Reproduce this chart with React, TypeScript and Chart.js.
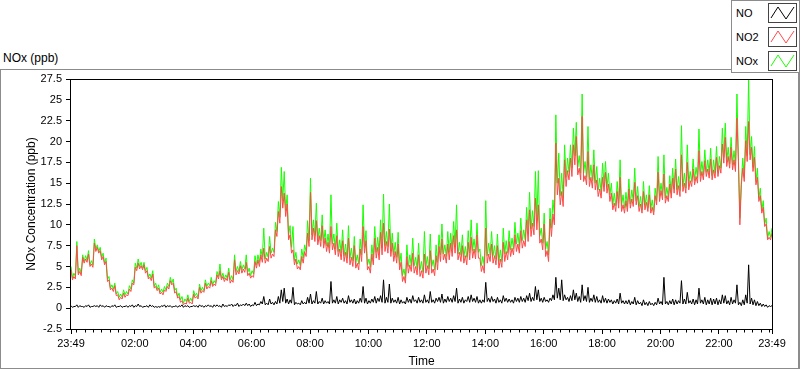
import React, { useEffect, useRef } from 'react';
import { Chart, registerables } from 'chart.js';

Chart.register(...registerables);

// ---- data -------------------------------------------------------------
// Samples every 6 minutes from 23:49 (minute 0) to 23:49 next day (minute 1440).
// *_PPB hold the reading at each sample, *_LOW hold the lowest reading seen
// inside the interval that follows it (read from the trace's lower edge).
const SAMPLE_STEP_MIN = 6;

const X_TICK_MINUTES = [0, 131, 251, 371, 491, 611, 731, 851, 971, 1091, 1211, 1331, 1440];
const X_TICK_LABELS = ['23:49', '02:00', '04:00', '06:00', '08:00', '10:00', '12:00', '14:00', '16:00', '18:00', '20:00', '22:00', '23:49'];
const X_MINOR_FIRST_MIN = 11;
const X_MINOR_STEP_MIN = 120 / 7;

const Y_MIN = -2.5;
const Y_MAX = 27.5;
const Y_STEP = 2.5;

const SERIES_NAMES = ['NO', 'NO2', 'NOx'];

const NO_PPB = [
  0.3, 0.2, 0.4, 0.3, 0.2, 0.3, 0.4, 0.2, 0.3, 0.3,
  0.4, 0.3, 0.3, 0.2, 0.3, 0.4, 0.2, 0.3, 0.2, 0.3,
  0.3, 0.4, 0.3, 0.5, 0.3, 0.2, 0.3, 0.4, 0.3, 0.2,
  0.2, 0.3, 0.4, 0.3, 0.3, 0.2, 0.3, 0.3, 0.4, 0.3,
  0.3, 0.2, 0.3, 0.3, 0.4, 0.3, 0.3, 0.4, 0.3, 0.4,
  0.4, 0.3, 0.5, 0.3, 0.4, 0.5, 0.4, 0.6, 0.4, 0.5,
  0.6, 0.5, 0.4, 0.7, 0.5, 0.8, 1.4, 0.6, 1.1, 0.7,
  0.8, 1.4, 2.2, 2.4, 1.1, 1.0, 2.5, 0.7, 0.6, 0.9,
  0.7, 1.3, 1.7, 0.9, 2.0, 0.8, 1.2, 0.9, 0.8, 3.2,
  1.0, 1.4, 1.0, 1.2, 0.9, 1.5, 1.0, 1.1, 0.9, 1.2,
  2.6, 1.2, 0.9, 1.1, 1.4, 1.2, 1.5, 3.4, 1.3, 2.9,
  1.2, 1.0, 1.3, 1.0, 0.8, 1.3, 1.1, 1.5, 1.0, 1.3,
  1.0, 1.6, 1.0, 2.0, 1.0, 1.2, 1.3, 1.7, 1.1, 1.4,
  1.2, 1.5, 2.4, 1.1, 1.3, 1.0, 1.4, 1.6, 1.2, 1.4,
  1.0, 1.0, 3.1, 1.2, 1.4, 1.1, 1.3, 1.0, 1.5, 1.2,
  1.1, 1.0, 1.3, 1.2, 1.4, 1.2, 1.5, 1.8, 1.3, 2.6,
  2.2, 1.2, 1.3, 1.0, 1.2, 1.6, 3.7, 2.4, 3.4, 1.6,
  1.3, 1.5, 2.2, 1.8, 1.4, 2.8, 1.5, 2.5, 1.2, 1.6,
  1.4, 1.0, 1.5, 1.2, 1.1, 1.0, 0.9, 1.1, 1.8, 0.9,
  0.9, 1.0, 0.8, 1.3, 0.9, 0.7, 1.0, 0.7, 0.8, 0.6,
  0.7, 1.2, 0.8, 3.7, 0.8, 0.9, 1.1, 1.0, 0.9, 3.3,
  1.1, 1.9, 0.9, 1.1, 1.0, 2.4, 1.0, 1.3, 1.0, 1.2,
  1.1, 1.2, 1.0, 1.6, 1.5, 0.9, 1.3, 1.0, 2.8, 0.7,
  1.0, 1.6, 5.2, 1.2, 1.0, 0.8, 0.6, 0.5, 0.4, 0.3, 0.3,
];

const NO_LOW = [
  0.1, 0.2, 0.1, 0.2, 0.1, 0.2, 0.1, 0.2, 0.2, 0.1,
  0.2, 0.1, 0.2, 0.1, 0.2, 0.1, 0.2, 0.1, 0.2, 0.1,
  0.2, 0.1, 0.2, 0.2, 0.1, 0.2, 0.1, 0.2, 0.1, 0.1,
  0.1, 0.2, 0.1, 0.2, 0.1, 0.2, 0.1, 0.2, 0.1, 0.2,
  0.1, 0.2, 0.2, 0.1, 0.2, 0.1, 0.2, 0.2, 0.1, 0.2,
  0.2, 0.1, 0.2, 0.2, 0.3, 0.2, 0.3, 0.2, 0.3, 0.3,
  0.3, 0.2, 0.3, 0.3, 0.4, 0.5, 0.4, 0.4, 0.5, 0.4,
  0.5, 0.6, 0.8, 0.6, 0.5, 0.6, 0.4, 0.5, 0.4, 0.5,
  0.5, 0.6, 0.5, 0.6, 0.5, 0.6, 0.5, 0.6, 0.5, 0.6,
  0.6, 0.5, 0.7, 0.6, 0.5, 0.7, 0.6, 0.5, 0.6, 0.7,
  0.6, 0.5, 0.6, 0.7, 0.6, 0.8, 0.7, 0.6, 0.7, 0.6,
  0.7, 0.6, 0.5, 0.6, 0.5, 0.7, 0.6, 0.8, 0.6, 0.7,
  0.6, 0.7, 0.6, 0.7, 0.6, 0.8, 0.7, 0.6, 0.7, 0.8,
  0.7, 0.8, 0.6, 0.7, 0.6, 0.8, 0.7, 0.8, 0.7, 0.6,
  0.6, 0.7, 0.8, 0.7, 0.8, 0.6, 0.7, 0.6, 0.8, 0.7,
  0.7, 0.6, 0.8, 0.7, 0.8, 0.7, 0.9, 0.8, 0.9, 1.0,
  0.8, 0.7, 0.8, 0.7, 0.9, 1.0, 1.2, 1.0, 0.9, 1.0,
  0.8, 0.9, 1.0, 0.8, 0.7, 0.9, 0.8, 0.7, 0.8, 0.7,
  0.7, 0.6, 0.7, 0.6, 0.7, 0.5, 0.6, 0.5, 0.6, 0.5,
  0.5, 0.4, 0.5, 0.4, 0.5, 0.3, 0.4, 0.3, 0.4, 0.3,
  0.4, 0.5, 0.4, 0.5, 0.4, 0.5, 0.4, 0.5, 0.6, 0.5,
  0.5, 0.6, 0.5, 0.4, 0.5, 0.6, 0.5, 0.4, 0.5, 0.4,
  0.5, 0.4, 0.5, 0.6, 0.5, 0.4, 0.5, 0.6, 0.4, 0.3,
  0.4, 0.6, 0.5, 0.4, 0.3, 0.3, 0.2, 0.2, 0.1, 0.2,
];

const NO2_PPB = [
  4.6, 3.8, 7.5, 4.4, 6.1, 5.9, 6.5, 5.3, 7.8, 7.3,
  6.9, 6.2, 5.6, 3.4, 2.4, 2.7, 1.6, 1.3, 1.8, 1.6,
  2.3, 3.0, 4.9, 5.4, 5.1, 5.2, 4.5, 3.7, 4.1, 2.6,
  2.4, 1.9, 2.2, 2.6, 3.3, 3.0, 2.0, 1.4, 0.9, 0.6,
  1.2, 0.7, 1.7, 1.4, 2.5, 2.1, 3.0, 2.6, 3.3, 2.9,
  4.0, 4.5, 3.8, 3.6, 4.3, 3.4, 5.8, 4.5, 5.1, 4.7,
  5.5, 4.2, 3.9, 5.6, 5.8, 6.4, 7.2, 6.0, 7.4, 6.5,
  9.4, 11.6, 14.6, 13.8, 12.5, 8.8, 7.0, 5.9, 5.0, 6.2,
  6.8, 9.0, 13.9, 9.6, 10.5, 8.7, 9.9, 8.4, 7.9, 9.8,
  7.8, 8.7, 7.1, 8.1, 6.7, 8.4, 6.1, 7.5, 5.4, 7.1,
  9.8, 8.1, 5.0, 6.5, 8.4, 7.3, 9.1, 10.2, 8.0, 9.5,
  7.8, 6.8, 7.7, 5.5, 3.8, 6.2, 5.2, 6.6, 5.0, 6.4,
  4.5, 6.5, 5.1, 6.9, 4.7, 6.3, 7.4, 8.3, 6.5, 7.7,
  7.8, 8.7, 9.4, 6.7, 7.5, 6.3, 7.9, 8.5, 7.1, 8.8,
  6.0, 5.1, 9.6, 6.5, 7.7, 6.3, 7.5, 5.9, 7.9, 6.8,
  8.0, 7.2, 8.8, 7.7, 9.3, 8.1, 10.6, 11.8, 10.2, 13.2,
  12.4, 8.3, 10.1, 6.9, 10.7, 11.3, 19.8, 15.6, 14.0, 17.8,
  16.5, 18.0, 19.6, 20.6, 16.8, 23.0, 15.9, 18.8, 15.7, 17.2,
  15.4, 14.3, 15.7, 16.3, 14.9, 13.8, 12.6, 14.0, 15.7, 12.4,
  12.9, 14.3, 13.1, 15.1, 13.5, 12.5, 14.0, 12.7, 13.6, 12.1,
  13.5, 16.3, 14.1, 16.1, 13.5, 14.9, 15.6, 16.7, 14.7, 18.4,
  15.0, 17.5, 15.3, 16.7, 15.8, 18.9, 16.4, 17.7, 16.7, 17.9,
  16.6, 18.1, 17.1, 19.7, 20.5, 18.2, 19.3, 17.8, 22.8, 10.0,
  16.8, 20.1, 22.4, 19.3, 18.1, 15.7, 13.5, 12.1, 10.1, 8.5, 9.0,
];

const NO2_LOW = [
  3.4, 3.5, 4.0, 3.9, 5.4, 5.5, 5.0, 4.9, 6.8, 6.6,
  5.8, 5.2, 3.2, 2.2, 2.0, 1.5, 1.0, 1.1, 1.3, 1.5,
  2.0, 2.8, 4.5, 4.7, 4.6, 4.2, 3.5, 3.3, 2.4, 2.1,
  1.7, 1.6, 2.0, 2.3, 2.8, 1.8, 1.2, 0.7, 0.4, 0.5,
  0.6, 0.5, 1.2, 1.1, 1.8, 1.9, 2.3, 2.4, 2.6, 2.7,
  3.5, 3.4, 3.2, 3.3, 3.0, 3.1, 4.0, 4.1, 4.2, 4.3,
  3.9, 3.6, 3.7, 4.8, 5.0, 5.5, 5.4, 5.6, 6.0, 6.2,
  8.6, 10.2, 12.0, 11.0, 8.2, 6.6, 5.2, 4.7, 4.6, 5.4,
  6.2, 7.4, 8.2, 8.0, 7.6, 7.4, 7.2, 6.8, 6.6, 7.0,
  6.4, 6.2, 5.8, 5.6, 5.4, 5.2, 5.0, 4.8, 4.6, 5.6,
  6.6, 4.6, 4.2, 5.2, 6.0, 5.8, 6.4, 6.8, 6.6, 6.2,
  5.6, 5.4, 4.6, 3.2, 3.0, 4.2, 4.4, 4.2, 4.0, 3.8,
  3.6, 4.2, 4.0, 4.2, 3.9, 4.6, 5.6, 5.8, 5.4, 5.8,
  6.2, 6.6, 5.8, 5.6, 5.4, 5.2, 5.8, 6.0, 5.9, 6.0,
  4.4, 4.2, 5.4, 5.6, 5.4, 5.2, 4.8, 4.9, 5.6, 5.8,
  6.2, 6.4, 6.8, 6.6, 7.2, 7.4, 8.0, 8.6, 8.8, 9.4,
  7.8, 7.0, 6.2, 5.6, 8.6, 10.0, 13.6, 12.4, 12.2, 14.6,
  15.4, 15.8, 17.2, 16.0, 15.4, 15.2, 14.8, 14.6, 14.4, 14.2,
  13.4, 13.2, 14.0, 13.8, 12.8, 11.8, 11.6, 12.0, 11.6, 11.4,
  11.6, 12.0, 12.2, 12.4, 11.6, 11.4, 11.8, 11.6, 11.4, 11.2,
  12.4, 12.8, 13.0, 12.6, 12.8, 13.2, 13.8, 13.6, 13.4, 14.0,
  13.8, 14.2, 14.6, 14.8, 15.0, 15.2, 15.4, 15.8, 15.6, 15.4,
  15.6, 15.8, 16.2, 17.4, 17.0, 16.8, 16.6, 16.4, 17.6, 14.8,
  15.2, 17.6, 17.8, 16.4, 14.8, 12.8, 11.4, 9.8, 8.2, 8.2,
];

const NOX_PPB = [
  5.0, 4.2, 8.0, 4.8, 6.4, 6.3, 6.9, 5.7, 8.3, 7.6,
  7.3, 6.6, 6.0, 3.8, 2.8, 3.0, 2.0, 1.7, 2.2, 2.0,
  2.7, 3.4, 5.4, 5.9, 5.5, 5.5, 4.9, 4.1, 4.5, 3.0,
  2.8, 2.3, 2.6, 3.0, 3.7, 3.5, 2.4, 1.8, 1.4, 1.1,
  1.6, 1.2, 2.1, 1.8, 2.9, 2.5, 3.4, 3.0, 3.7, 3.3,
  4.4, 5.3, 4.2, 4.0, 4.8, 3.9, 6.4, 5.0, 5.6, 5.2,
  6.4, 4.8, 4.5, 6.3, 6.4, 7.1, 9.6, 6.7, 8.6, 7.2,
  10.3, 12.8, 16.9, 16.4, 13.6, 9.9, 9.8, 6.7, 5.8, 7.1,
  7.6, 10.5, 15.6, 10.6, 12.6, 9.6, 11.2, 9.4, 8.9, 13.6,
  8.9, 10.2, 8.2, 9.4, 7.7, 9.9, 7.2, 8.6, 6.4, 8.3,
  12.4, 9.3, 5.9, 7.6, 9.8, 8.5, 10.6, 13.7, 9.2, 12.5,
  9.0, 7.9, 9.1, 6.6, 4.7, 7.6, 6.4, 8.4, 6.1, 7.8,
  5.6, 9.2, 6.2, 8.9, 5.8, 7.6, 8.8, 10.1, 7.6, 9.2,
  9.0, 10.4, 12.4, 7.9, 8.8, 7.4, 9.3, 10.6, 8.3, 10.2,
  7.1, 6.2, 12.9, 7.8, 9.2, 7.5, 8.9, 7.0, 9.6, 8.1,
  9.3, 8.4, 10.3, 9.0, 10.8, 9.4, 12.1, 13.9, 11.7, 16.4,
  16.5, 9.6, 11.4, 8.0, 12.0, 13.0, 23.2, 18.6, 16.2, 19.6,
  18.0, 19.6, 21.6, 22.3, 18.3, 25.7, 17.6, 21.8, 17.2, 19.0,
  17.0, 15.6, 17.4, 17.6, 16.2, 15.0, 13.8, 15.2, 17.8, 13.6,
  13.9, 15.5, 14.2, 16.8, 14.6, 13.4, 15.2, 13.6, 14.7, 13.0,
  14.4, 18.2, 15.0, 18.4, 14.5, 15.9, 16.8, 17.9, 15.8, 21.9,
  16.2, 19.6, 16.4, 17.9, 16.9, 21.5, 17.6, 19.0, 17.8, 19.2,
  17.8, 19.4, 18.2, 21.6, 22.2, 19.3, 20.5, 18.9, 25.7, 10.8,
  18.0, 21.8, 27.4, 20.6, 19.4, 16.8, 14.4, 12.9, 10.8, 9.2, 9.6,
];

const NOX_LOW = [
  3.6, 3.8, 4.2, 4.2, 5.6, 5.8, 5.2, 5.2, 7.1, 6.8,
  6.1, 5.4, 3.5, 2.4, 2.3, 1.7, 1.3, 1.3, 1.6, 1.7,
  2.3, 3.0, 4.8, 5.0, 4.8, 4.5, 3.7, 3.6, 2.6, 2.3,
  1.9, 1.9, 2.2, 2.6, 3.0, 2.1, 1.4, 1.0, 0.6, 0.8,
  0.8, 0.8, 1.5, 1.3, 2.1, 2.1, 2.6, 2.7, 2.8, 3.0,
  3.8, 3.6, 3.5, 3.6, 3.4, 3.4, 4.4, 4.4, 4.6, 4.7,
  4.3, 3.9, 4.1, 5.2, 5.5, 6.1, 5.9, 6.1, 6.6, 6.7,
  9.2, 10.9, 12.9, 11.7, 8.8, 7.3, 5.7, 5.3, 5.1, 6.0,
  6.8, 8.1, 8.8, 8.7, 8.2, 8.1, 7.8, 7.5, 7.2, 7.7,
  7.1, 6.8, 6.6, 6.3, 6.0, 6.0, 5.7, 5.4, 5.3, 6.4,
  7.3, 5.2, 4.9, 6.0, 6.7, 6.7, 7.2, 7.5, 7.4, 6.9,
  6.4, 6.1, 5.2, 3.9, 3.6, 5.0, 5.1, 5.1, 4.7, 4.6,
  4.3, 5.0, 4.7, 5.0, 4.6, 5.5, 6.4, 6.5, 6.2, 6.7,
  7.0, 7.5, 6.5, 6.4, 6.1, 6.1, 6.6, 6.9, 6.7, 6.7,
  5.1, 5.0, 6.3, 6.4, 6.3, 5.9, 5.6, 5.6, 6.5, 6.6,
  7.0, 7.1, 7.7, 7.4, 8.1, 8.2, 9.0, 9.5, 9.8, 10.5,
  8.7, 7.8, 7.1, 6.4, 9.6, 11.1, 15.0, 13.5, 13.2, 15.7,
  16.3, 16.8, 18.3, 16.9, 16.2, 16.2, 15.7, 15.4, 15.3, 15.0,
  14.2, 13.9, 14.8, 14.5, 13.6, 12.4, 12.3, 12.6, 12.3, 12.0,
  12.2, 12.5, 12.8, 12.9, 12.2, 11.8, 12.3, 12.0, 11.9, 11.6,
  12.9, 13.4, 13.5, 13.2, 13.3, 13.8, 14.3, 14.2, 14.1, 14.6,
  14.4, 14.9, 15.2, 15.3, 15.6, 15.9, 16.0, 16.3, 16.2, 15.9,
  16.2, 16.3, 16.8, 18.1, 17.6, 17.3, 17.2, 17.1, 18.1, 15.2,
  15.7, 18.3, 18.4, 16.9, 15.2, 13.2, 11.7, 10.1, 8.4, 8.5,
];

// ---- styles -----------------------------------------------------------
const FONT = "'Liberation Sans', Arial, sans-serif";
const SERIES_COLORS = ['#000000', '#ff4848', '#18ff00'];
const FRAME_COLOR = '#8c8c8c';

// sample reading at each step, the interval's low half a step later
const toPoints = (values: number[], lows: number[]) => {
  const pts: { x: number; y: number }[] = [];
  values.forEach((v, i) => {
    pts.push({ x: i * SAMPLE_STEP_MIN, y: v });
    if (i < lows.length) pts.push({ x: i * SAMPLE_STEP_MIN + SAMPLE_STEP_MIN / 2, y: lows[i] });
  });
  return pts;
};

const plotFrame = {
  id: 'plotFrame',
  afterDatasetsDraw(chart: any) {
    const { ctx, chartArea } = chart;
    ctx.save();
    ctx.strokeStyle = '#000';
    ctx.lineWidth = 1;
    ctx.strokeRect(
      Math.round(chartArea.left) - 0.5,
      Math.round(chartArea.top) + 0.5,
      Math.round(chartArea.right - chartArea.left) + 1,
      Math.round(chartArea.bottom - chartArea.top)
    );
    ctx.restore();
  },
};

const minorTicks = {
  id: 'minorTicks',
  afterDraw(chart: any) {
    const xs = chart.scales.x;
    const { ctx, chartArea } = chart;
    const y0 = Math.round(chartArea.bottom) + 0.5;
    ctx.save();
    ctx.strokeStyle = '#000';
    ctx.lineWidth = 1;
    ctx.beginPath();
    for (let m = X_MINOR_FIRST_MIN; m <= 1440; m += X_MINOR_STEP_MIN) {
      if (X_TICK_MINUTES.some((t) => Math.abs(t - m) < 3)) continue;
      const px = Math.round(xs.getPixelForValue(m)) + 0.5;
      ctx.moveTo(px, y0);
      ctx.lineTo(px, y0 + 3);
    }
    ctx.stroke();
    ctx.restore();
  },
};

function LegendIcon({ color }: { color: string }) {
  return (
    <svg width={27} height={18} style={{ display: 'block' }}>
      <polyline points="2,14 9,3 17,15 25,3" fill="none" stroke={color} strokeWidth={1} />
    </svg>
  );
}

export default function App() {
  const canvasRef = useRef<HTMLCanvasElement | null>(null);

  useEffect(() => {
    if (!canvasRef.current) return;
    const tickFont = { family: FONT, size: 11 };
    const titleFont = { family: FONT, size: 12 };
    const chart = new Chart(canvasRef.current, {
      type: 'line',
      data: {
        datasets: [
          { label: SERIES_NAMES[0], data: toPoints(NO_PPB, NO_LOW), borderColor: SERIES_COLORS[0], borderWidth: 1, pointRadius: 0, fill: false, tension: 0 },
          { label: SERIES_NAMES[1], data: toPoints(NO2_PPB, NO2_LOW), borderColor: SERIES_COLORS[1], borderWidth: 1, pointRadius: 0, fill: false, tension: 0 },
          { label: SERIES_NAMES[2], data: toPoints(NOX_PPB, NOX_LOW), borderColor: SERIES_COLORS[2], borderWidth: 1, pointRadius: 0, fill: false, tension: 0 },
        ],
      },
      options: {
        animation: false,
        responsive: false,
        maintainAspectRatio: false,
        layout: { padding: { top: 79, right: 28, left: 0, bottom: 0 } },
        plugins: { legend: { display: false }, tooltip: { enabled: false } },
        scales: {
          x: {
            type: 'linear',
            min: 0,
            max: 1440,
            afterBuildTicks: (s: any) => {
              s.ticks = X_TICK_MINUTES.map((v) => ({ value: v }));
            },
            afterFit: (s: any) => {
              s.height = 40;
            },
            ticks: {
              autoSkip: false,
              maxRotation: 0,
              font: tickFont,
              color: '#000',
              padding: 3,
              callback: (v: any) => {
                const idx = X_TICK_MINUTES.indexOf(Number(v));
                return idx >= 0 ? X_TICK_LABELS[idx] : '';
              },
            },
            grid: { drawOnChartArea: false, drawTicks: true, tickLength: 5, color: '#000' },
            border: { display: false },
            title: { display: true, text: 'Time', font: titleFont, color: '#000', padding: { top: 0, bottom: 0 } },
          },
          y: {
            min: Y_MIN,
            max: Y_MAX,
            afterFit: (s: any) => {
              s.width = 71;
            },
            ticks: {
              stepSize: Y_STEP,
              font: tickFont,
              color: '#000',
              padding: 4,
              callback: (v: any) => String(v),
            },
            grid: { drawOnChartArea: false, drawTicks: true, tickLength: 5, color: '#000' },
            border: { display: false },
            title: { display: true, text: 'NOx Concentration (ppb)', font: titleFont, color: '#000', padding: { top: 24, bottom: 0 } },
          },
        },
      } as any,
      plugins: [plotFrame, minorTicks],
    });
    return () => chart.destroy();
  }, []);

  return (
    <div style={{ position: 'fixed', left: 0, top: 0, width: 800, height: 369, background: '#fff', fontFamily: FONT, color: '#000', overflow: 'hidden' }}>
      <div style={{ position: 'absolute', left: 0, top: 69, width: 800, height: 300, border: `1px solid ${FRAME_COLOR}`, borderRightWidth: 2, boxSizing: 'border-box' }} />
      <div style={{ position: 'absolute', left: 3, top: 51, fontSize: 12, lineHeight: '14px', whiteSpace: 'nowrap' }}>NOx (ppb)</div>
      <canvas ref={canvasRef} width={800} height={369} style={{ position: 'absolute', left: 0, top: 0, width: 800, height: 369, display: 'block' }} />
      <div style={{ position: 'absolute', left: 731, top: 0, width: 69, height: 73, border: `1px solid ${FRAME_COLOR}`, background: '#fff', boxSizing: 'border-box' }}>
        {SERIES_NAMES.map((name, i) => (
          <React.Fragment key={name}>
            <div style={{ position: 'absolute', left: 4, top: 5 + i * 24, fontSize: 11, lineHeight: '14px', whiteSpace: 'nowrap' }}>{name}</div>
            <div style={{ position: 'absolute', left: 36, top: 2 + i * 24, width: 29, height: 20, border: '1px solid #444', boxSizing: 'border-box', background: '#fff' }}>
              <LegendIcon color={SERIES_COLORS[i]} />
            </div>
          </React.Fragment>
        ))}
      </div>
    </div>
  );
}
